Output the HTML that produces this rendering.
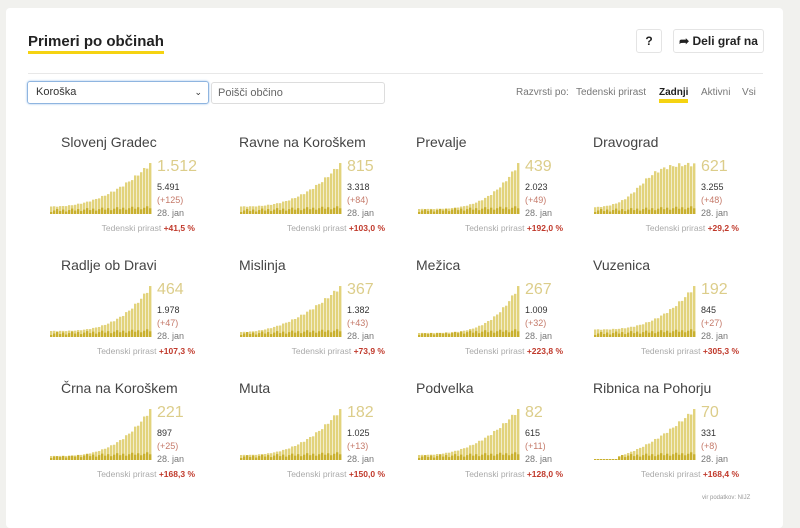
<!DOCTYPE html>
<html><head><meta charset="utf-8"><style>
body{margin:0;width:800px;height:517px;background:#f1f1ee;font-family:"Liberation Sans",sans-serif;overflow:hidden;position:relative}
.card{position:absolute;left:6px;top:8px;width:777px;height:520px;background:#fff;border-radius:4px}
.title{position:absolute;left:28px;top:34px;font-size:15px;font-weight:bold;color:#222;border-bottom:3px solid #f5d311;line-height:16px;padding-bottom:1px}
.btn{position:absolute;top:29px;height:22px;border:1px solid #e4e4e4;border-radius:3px;font-size:12px;font-weight:bold;color:#222;line-height:22px;text-align:center;background:#fff}
.hr{position:absolute;left:28px;top:73px;width:735px;height:1px;background:#e8e8e8}
.sel{position:absolute;left:27px;top:81px;width:172px;height:21px;border:1px solid #8fb5e0;border-radius:3px;box-shadow:0 0 2px #9cc0ea;font-size:11px;line-height:21px;padding-left:8px;color:#333}
.inp{position:absolute;left:211px;top:82px;width:166px;height:20px;border:1px solid #ddd;border-radius:3px;font-size:11px;line-height:20px;padding-left:6px;color:#666}
.sort{position:absolute;top:87px;font-size:10px;color:#777;white-space:nowrap}
.big{position:absolute;font-size:16px;color:#dccd8a}
.s{position:absolute;font-size:9px;color:#333}
.r{color:#c57a6a}
.g{color:#777}
.ted{position:absolute;font-size:8.5px;color:#aaa;text-align:right;width:200px;white-space:nowrap}
.ted b{color:#c0392b}
</style></head><body>
<div class="card"></div>
<div class="title">Primeri po občinah</div>
<div class="btn" style="left:636px;width:24px">?</div>
<div class="btn" style="left:673px;width:89px">&#10150; Deli graf na</div>
<div class="hr"></div>
<div class="sel">Koroška<span style="position:absolute;right:6px;top:0;font-size:9px">&#8964;</span></div>
<div class="inp">Poišči občino</div>
<div class="sort" style="left:516px">Razvrsti po:</div>
<div class="sort" style="left:576px">Tedenski prirast</div>
<div class="sort" style="left:659px;color:#222;font-weight:bold;border-bottom:4px solid #f5d311;line-height:12px">Zadnji</div>
<div class="sort" style="left:701px">Aktivni</div>
<div class="sort" style="left:742px">Vsi</div>
<div id="grid"></div>
<div style="position:absolute;left:702px;top:495px;font-size:6px;color:#999">vir podatkov: NIJZ</div>
<script>
var data=[
["Slovenj Gradec","1.512","5.491","(+125)","+41,5 %",2.2,0.15],
["Ravne na Koroškem","815","3.318","(+84)","+103,0 %",2.6,0.15],
["Prevalje","439","2.023","(+49)","+192,0 %",3.5,0.1],
["Dravograd","621","3.255","(+48)","+29,2 %",-1,0.12],
["Radlje ob Dravi","464","1.978","(+47)","+107,3 %",3.2,0.12],
["Mislinja","367","1.382","(+43)","+73,9 %",2.0,0.1],
["Mežica","267","1.009","(+32)","+223,8 %",3.8,0.08],
["Vuzenica","192","845","(+27)","+305,3 %",2.8,0.15],
["Črna na Koroškem","221","897","(+25)","+168,3 %",3.0,0.08],
["Muta","182","1.025","(+13)","+150,0 %",2.6,0.1],
["Podvelka","82","615","(+11)","+128,0 %",2.4,0.1],
["Ribnica na Pohorju","70","331","(+8)","+168,4 %",1.8,0.0]];
var cx=[50,240,418,594],tx=[61,239,416,593],ry=[142,265,388];
var h="";
data.forEach(function(d,k){
 var c=k%4,r=Math.floor(k/4),x=cx[c],y=ry[r];
 h+='<div style="position:absolute;left:'+tx[c]+'px;top:'+(y-8)+'px;font-size:14px;color:#444;white-space:nowrap">'+d[0]+'</div>';
 var s='<svg style="position:absolute;left:'+x+'px;top:'+(y+20)+'px" width="104" height="54">';
 var n=34;
 for(var i=0;i<n;i++){
  var t=i/(n-1),f;
  if(d[5]<0){f=0.12+0.88/(1+Math.exp(-(t-0.45)*9));}
  else f=d[6]+(1-d[6])*Math.pow(t,d[5]);
  f*=1+0.04*Math.sin(i*2.3);
  if(d[0]=="Ribnica na Pohorju"&&i<8)f=0.02;
  var hh=Math.max(1,f*50),bx=i*3;
  s+='<rect x="'+bx+'" y="'+(52-hh)+'" width="2.4" height="'+hh+'" fill="#e2d37c"/>';
  var dk=2+((i*7)%5)*0.7+t*3;
  s+='<rect x="'+bx+'" y="'+(52-Math.min(dk,hh))+'" width="2.4" height="'+Math.min(dk,hh)+'" fill="#c9b02e"/>';
 }
 s+='</svg>';h+=s;
 var nx=x+107;
 h+='<div class="big" style="left:'+nx+'px;top:'+(y+16)+'px">'+d[1]+'</div>';
 h+='<div class="s" style="left:'+nx+'px;top:'+(y+40)+'px">'+d[2]+'</div>';
 h+='<div class="s r" style="left:'+nx+'px;top:'+(y+53)+'px">'+d[3]+'</div>';
 h+='<div class="s g" style="left:'+nx+'px;top:'+(y+66)+'px">28. jan</div>';
 h+='<div class="ted" style="left:'+(x+145-200)+'px;top:'+(y+81)+'px">Tedenski prirast <b>'+d[4]+'</b></div>';
});
document.getElementById("grid").innerHTML=h;
</script>
</body></html>
